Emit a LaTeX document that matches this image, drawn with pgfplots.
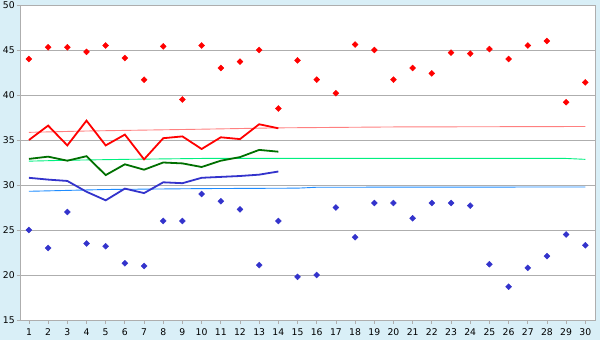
\documentclass[border=0pt]{standalone}
\usepackage{pgfplots}
\pgfplotsset{compat=1.18}
\usepackage{fontspec}
\setmainfont{DejaVu Sans}
\definecolor{bg}{HTML}{D9EFF7}
\definecolor{gridc}{HTML}{AEAEAE}
\definecolor{myred}{HTML}{FF0000}
\definecolor{mygreen}{HTML}{007000}
\definecolor{myblue}{HTML}{3333CC}
\definecolor{avgred}{HTML}{FF8080}
\definecolor{avggreen}{HTML}{00F080}
\definecolor{avgblue}{HTML}{1E8CFF}
\begin{document}
\begin{tikzpicture}
\fill[bg] (0,0) rectangle (600bp,340bp);
\useasboundingbox (0,0) rectangle (600bp,340bp);
\begin{axis}[
  at={(20.7bp,20bp)}, anchor=south west,
  scale only axis, width=574.6bp, height=315bp,
  xmin=0.57, xmax=30.52, ymin=15, ymax=50,
  xtick={1,...,30}, ytick={15,20,...,50},
  ymajorgrids, grid style={gridc, line width=0.8bp},
  axis line style={gridc, line width=0.8bp},
  tick style={gridc, line width=0.8bp},
  tick align=outside, tick pos=left, major tick length=4bp,
  axis background/.style={fill=white},
  tick label style={font=\fontsize{9.3}{10}\selectfont},
  /pgf/number format/assume math mode=true,
  xticklabel style={yshift=-1bp},
  yticklabel style={xshift=1.5bp},
  clip=false,
]
% averages
\addplot[avgred, line width=0.9bp] coordinates {(1,35.85)(4,36.0)(7,36.1)(10,36.2)(14,36.35)(20,36.45)(30,36.5)};
\addplot[avggreen, line width=0.9bp] coordinates {(1,32.65)(3,32.75)(6,32.85)(10,32.95)(29,32.95)(30,32.85)};
\addplot[avgblue, line width=0.9bp] coordinates {(1,29.3)(3,29.4)(5,29.5)(10,29.6)(15,29.65)(16,29.75)(30,29.78)};
% daily lines
\addplot[myred, line width=1.8bp] coordinates {(1,35.0)(2,36.6)(3,34.4)(4,37.15)(5,34.4)(6,35.6)(7,32.85)(8,35.2)(9,35.4)(10,34.0)(11,35.3)(12,35.1)(13,36.75)(14,36.3)};
\addplot[mygreen, line width=1.8bp] coordinates {(1,32.9)(2,33.15)(3,32.7)(4,33.2)(5,31.1)(6,32.3)(7,31.7)(8,32.5)(9,32.4)(10,32.0)(11,32.7)(12,33.1)(13,33.9)(14,33.7)};
\addplot[myblue, line width=1.8bp] coordinates {(1,30.8)(2,30.6)(3,30.45)(4,29.25)(5,28.3)(6,29.6)(7,29.1)(8,30.3)(9,30.2)(10,30.8)(11,30.9)(12,31.0)(13,31.15)(14,31.5)};
% max
\addplot[only marks, mark=square*, mark options={rotate=45}, mark size=2.1bp, myred] coordinates {
(1,44.0)(2,45.3)(3,45.3)(4,44.8)(5,45.5)(6,44.1)(7,41.7)(8,45.4)(9,39.5)(10,45.5)
(11,43.0)(12,43.7)(13,45.0)(14,38.5)(15,43.85)(16,41.7)(17,40.2)(18,45.6)(19,45.0)(20,41.7)
(21,43.0)(22,42.4)(23,44.7)(24,44.6)(25,45.1)(26,44.0)(27,45.5)(28,46.0)(29,39.2)(30,41.4)};
% min
\addplot[only marks, mark=square*, mark options={rotate=45}, mark size=2.1bp, myblue] coordinates {
(1,25.0)(2,23.0)(3,27.0)(4,23.5)(5,23.2)(6,21.3)(7,21.0)(8,26.0)(9,26.0)(10,29.0)
(11,28.2)(12,27.3)(13,21.1)(14,26.0)(15,19.8)(16,20.0)(17,27.5)(18,24.2)(19,28.0)(20,28.0)
(21,26.3)(22,28.0)(23,28.0)(24,27.7)(25,21.2)(26,18.7)(27,20.8)(28,22.1)(29,24.5)(30,23.3)};
\end{axis}
\end{tikzpicture}
\end{document}
